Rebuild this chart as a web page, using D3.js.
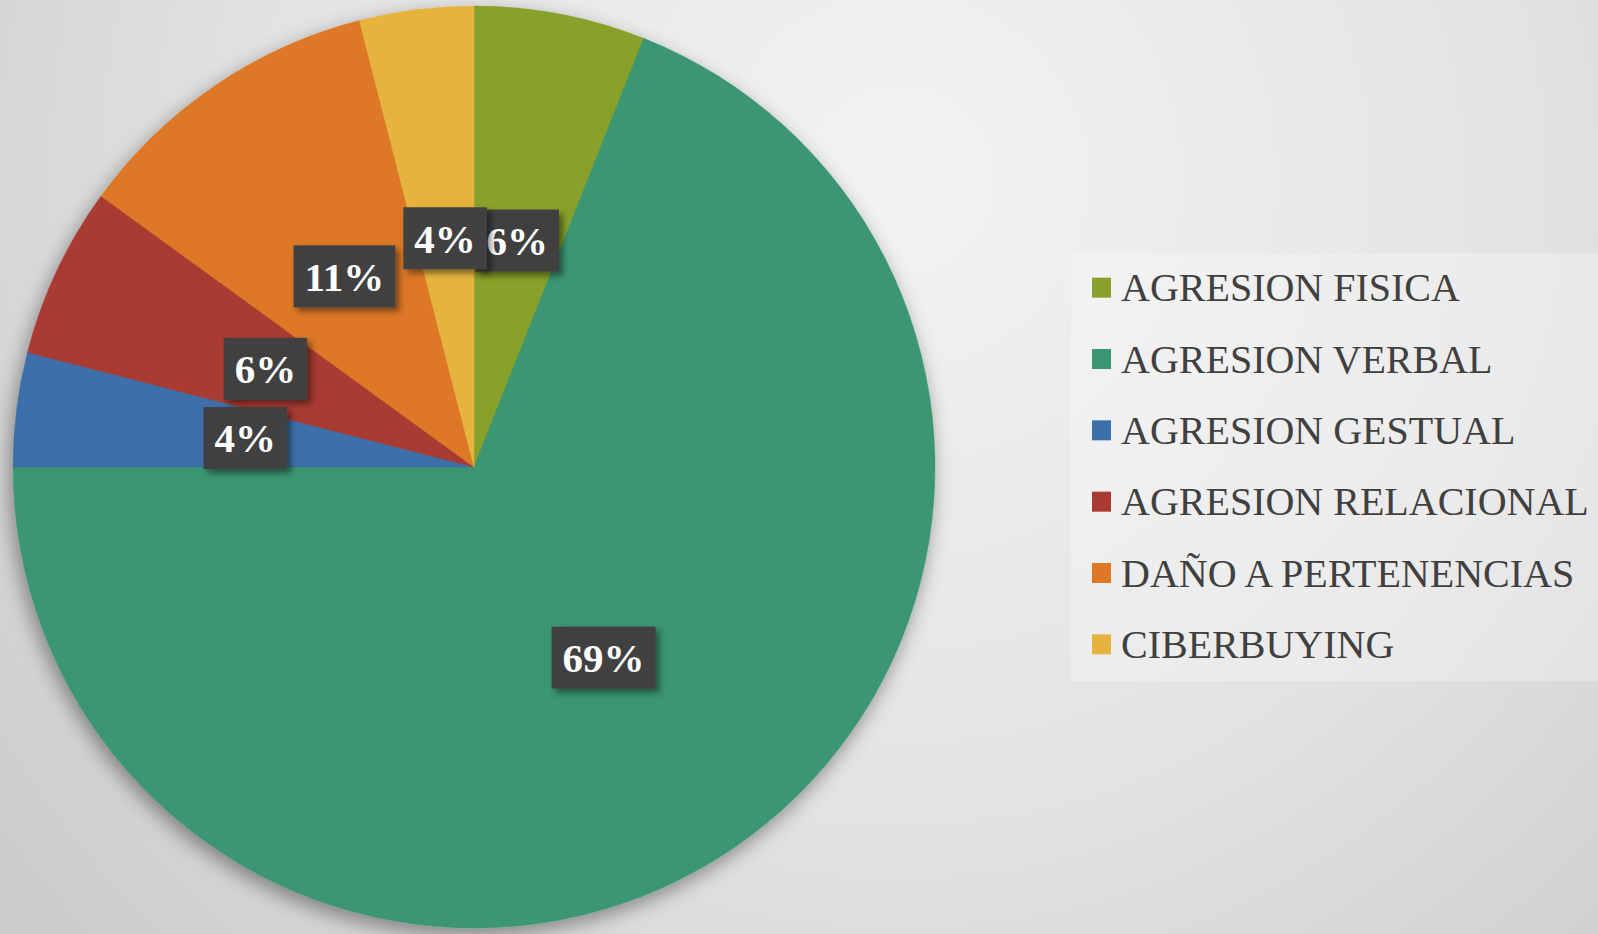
<!DOCTYPE html>
<html>
<head>
<meta charset="utf-8">
<script src="https://cdn.jsdelivr.net/npm/d3@7"></script>
<style>
  html, body { margin: 0; padding: 0; overflow: hidden; }
  #chart { width: 1598px; height: 934px; }
</style>
</head>
<body>
<div id="chart"></div>
<script>
const categories = ['AGRESION FISICA', 'AGRESION VERBAL', 'AGRESION GESTUAL', 'AGRESION RELACIONAL', 'DAÑO A PERTENENCIAS', 'CIBERBUYING'];
const values = [6, 69, 4, 6, 11, 4];
const colors = ['#87a12b', '#3a9671', '#3d6fa9', '#a93a31', '#dc7826', '#e6b33e'];

const width = 1598;
const height = 934;
const cx = 474;
const cy = 467;
const radius = 461;

const data = categories.map((c, i) => ({ name: c, value: values[i], color: colors[i] }));

const svg = d3.select('#chart')
  .append('svg')
  .attr('width', width)
  .attr('height', height);

const defs = svg.append('defs');

const bg = defs.append('radialGradient')
  .attr('id', 'bg')
  .attr('gradientUnits', 'userSpaceOnUse')
  .attr('cx', 900).attr('cy', 180).attr('r', 1150);
bg.append('stop').attr('offset', '0%').attr('stop-color', '#f3f3f3');
bg.append('stop').attr('offset', '55%').attr('stop-color', '#e3e3e3');
bg.append('stop').attr('offset', '100%').attr('stop-color', '#cbcbcb');

const pieShadow = defs.append('filter')
  .attr('id', 'pieShadow')
  .attr('x', '-20%').attr('y', '-20%').attr('width', '140%').attr('height', '140%');
pieShadow.append('feDropShadow')
  .attr('dx', -3).attr('dy', 7)
  .attr('stdDeviation', 10)
  .attr('flood-color', '#000')
  .attr('flood-opacity', 0.4);

const boxShadow = defs.append('filter')
  .attr('id', 'boxShadow')
  .attr('x', '-30%').attr('y', '-30%').attr('width', '160%').attr('height', '160%');
boxShadow.append('feDropShadow')
  .attr('dx', 4).attr('dy', 4)
  .attr('stdDeviation', 3)
  .attr('flood-color', '#000')
  .attr('flood-opacity', 0.45);

const dots = defs.append('pattern')
  .attr('id', 'dots')
  .attr('patternUnits', 'userSpaceOnUse')
  .attr('width', 4).attr('height', 4);
dots.append('rect').attr('width', 4).attr('height', 4).attr('fill', '#3c3c3c');
dots.append('circle').attr('cx', 1).attr('cy', 1).attr('r', 0.8).attr('fill', '#4f4f4f');
dots.append('circle').attr('cx', 3).attr('cy', 3).attr('r', 0.8).attr('fill', '#4f4f4f');

svg.append('rect')
  .attr('width', width)
  .attr('height', height)
  .attr('fill', 'url(#bg)');

const pie = d3.pie()
  .sort(null)
  .value(d => d.value);

const arcs = pie(data);

const arc = d3.arc()
  .innerRadius(0)
  .outerRadius(radius);

const g = svg.append('g')
  .attr('transform', `translate(${cx},${cy})`);

g.append('g')
  .attr('filter', 'url(#pieShadow)')
  .selectAll('path')
  .data(arcs)
  .enter()
  .append('path')
  .attr('d', arc)
  .attr('fill', d => d.data.color)
  .attr('stroke', d => d.data.color)
  .attr('stroke-width', 0.5);

// data labels, centred half way out along each slice
const labelArc = d3.arc()
  .innerRadius(radius * 0.5)
  .outerRadius(radius * 0.5);

const labels = g.append('g')
  .selectAll('g')
  .data(arcs)
  .enter()
  .append('g')
  .attr('transform', d => `translate(${labelArc.centroid(d)})`);

labels.append('rect').attr('class', 'lbl-box');

labels.append('text')
  .attr('text-anchor', 'middle')
  .attr('dy', '0.35em')
  .attr('fill', '#ffffff')
  .style('font-family', '"Liberation Serif", "DejaVu Serif", serif')
  .style('font-weight', 'bold')
  .style('font-size', '41px')
  .text(d => d.data.value + '%');

labels.each(function() {
  const grp = d3.select(this);
  const bb = grp.select('text').node().getBBox();
  const w = bb.width + 22;
  const h = 62;
  grp.select('rect')
    .attr('x', -w / 2)
    .attr('y', -h / 2)
    .attr('width', w)
    .attr('height', h)
    .attr('fill', 'url(#dots)')
    .attr('filter', 'url(#boxShadow)');
});

// legend
const legendBox = { x: 1071, y: 253, w: 540, h: 428 };

svg.append('rect')
  .attr('x', legendBox.x)
  .attr('y', legendBox.y)
  .attr('width', legendBox.w)
  .attr('height', legendBox.h)
  .attr('fill', '#ffffff')
  .attr('fill-opacity', 0.28);

const ly = d3.scaleBand()
  .domain(categories)
  .range([252, 680]);

const legend = svg.append('g')
  .selectAll('g')
  .data(data)
  .enter()
  .append('g')
  .attr('transform', d => `translate(1092,${ly(d.name) + ly.bandwidth() / 2})`);

legend.append('rect')
  .attr('x', 0)
  .attr('y', -10)
  .attr('width', 19)
  .attr('height', 20)
  .attr('fill', d => d.color);

legend.append('text')
  .attr('x', 29)
  .attr('dy', '0.34em')
  .attr('fill', '#404040')
  .style('font-family', '"Liberation Serif", "DejaVu Serif", serif')
  .style('font-size', '40px')
  .text(d => d.name);
</script>
</body>
</html>
